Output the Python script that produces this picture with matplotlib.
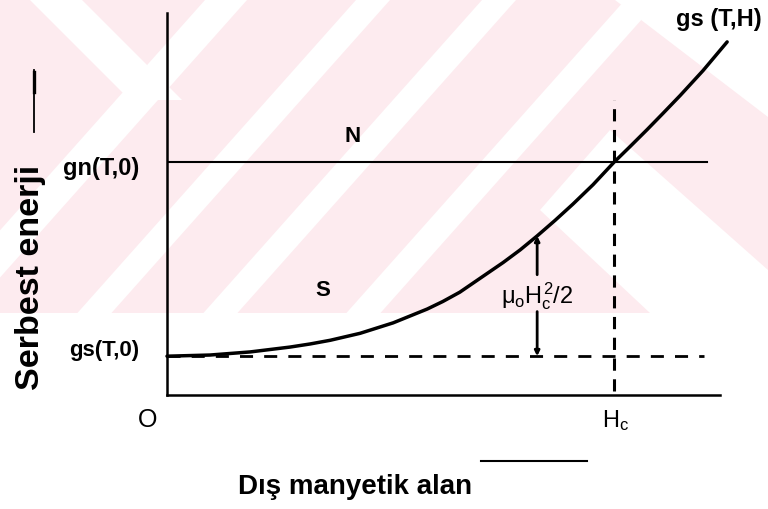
import matplotlib
matplotlib.use("Agg")
import matplotlib.pyplot as plt
from matplotlib.patches import Polygon
from matplotlib.lines import Line2D
from matplotlib import font_manager

# values (H in units of Hc, energy in arbitrary units)
H_curve = [0.0, 0.096, 0.186, 0.275, 0.320, 0.365, 0.432, 0.506, 0.582, 0.617,
           0.655, 0.752, 0.790, 0.828, 0.868, 0.908, 0.953, 1.0, 1.036, 1.074,
           1.110, 1.148, 1.199, 1.253]
g_curve = [0.2, 0.206, 0.222, 0.247, 0.263, 0.282, 0.318, 0.372, 0.443, 0.482,
           0.530, 0.683, 0.748, 0.820, 0.900, 0.984, 1.084, 1.2, 1.281, 1.368,
           1.453, 1.544, 1.672, 1.820]
gn0 = 1.2          # gn(T,0)
gs0 = 0.2          # gs(T,0)
Hc = 1.0
gn_end = 1.208     # where the N line stops
gs0_end = 1.201    # where the dashed gs(T,0) line stops
H_arrow = 0.828    # position of the mu0 Hc^2/2 arrow
g_arrow_gap = [0.43, 0.62]
Hc_line = [0.02, 1.52]

names = {f.name for f in font_manager.fontManager.ttflist}
font = 'Liberation Sans' if 'Liberation Sans' in names else 'DejaVu Sans'
plt.rcParams['font.family'] = [font, 'DejaVu Sans']
plt.rcParams['mathtext.fontset'] = 'custom'
plt.rcParams['mathtext.rm'] = font
plt.rcParams['mathtext.it'] = font

W, Hpx = 768, 509
fig = plt.figure(figsize=(W / 100, Hpx / 100), dpi=100)
fig.patch.set_facecolor('white')


def px(x, y):
    """pixel (from top-left) -> figure fraction"""
    return (x / W, 1 - y / Hpx)


def wm_poly(pts, color):
    fig.add_artist(Polygon([px(*p) for p in pts], closed=True, transform=fig.transFigure,
                           facecolor=color, edgecolor='none', zorder=-10))


# watermark in the background
pink = '#fdebef'
wm_poly([(0, 0), (W, 0), (W, 313), (0, 313)], pink)
for c, sw in [(205, 42), (356, 34), (482, 34), (625, 34)]:
    wm_poly([(c, 0), (c + sw, 0), (c + sw - 0.89 * 313, 313), (c - 0.89 * 313, 313)], 'white')
wm_poly([(30, 0), (82, 0), (182, 100), (130, 100)], 'white')
wm_poly([(615, 0), (W, 0), (W, 117)], 'white')
wm_poly([(610, 130), (W, 270), (W, 313), (650, 313), (540, 210)], 'white')

ax = fig.add_axes([167 / W, 1 - 395 / Hpx, (720 - 167) / W, (395 - 13) / Hpx])
ax.set_facecolor('none')
ax.set_xlim(0, 1.237)
ax.set_ylim(0, 1.969)
for s in ['top', 'right']:
    ax.spines[s].set_visible(False)
for s in ['left', 'bottom']:
    ax.spines[s].set_linewidth(1.8)
ax.set_xticks([])
ax.set_yticks([])

# N line, dashed gs(T,0), Hc line
ax.plot([0, gn_end], [gn0, gn0], color='black', lw=1.5)
ax.plot([0, gs0_end], [gs0, gs0], color='black', lw=2, linestyle=(0, (4.7, 4.0)))
ax.plot([Hc, Hc], Hc_line, color='black', lw=2.2, linestyle=(0, (4.0, 2.8)))

# gs(T,H)
ax.plot(H_curve, g_curve, color='black', lw=2.5, clip_on=False,
        solid_capstyle='round', solid_joinstyle='round')

# mu0 Hc^2/2 arrows
arr = dict(arrowstyle='-|>', color='black', lw=2.0, mutation_scale=7, shrinkA=0, shrinkB=0)
ax.annotate('', xy=(H_arrow, g_curve[13]), xytext=(H_arrow, g_arrow_gap[1]), arrowprops=arr)
ax.annotate('', xy=(H_arrow, gs0), xytext=(H_arrow, g_arrow_gap[0]), arrowprops=arr)
ax.text(H_arrow, 0.51, r'$\mu_o H_c^2/2$', fontsize=17, ha='center', va='center')

# labels
bold = dict(fontweight='bold', color='black')
ax.text(-0.063, gn0 - 0.035, 'gn(T,0)', fontsize=17, ha='right', va='center', **bold)
ax.text(-0.063, gs0 + 0.03, 'gs(T,0)', fontsize=16, ha='right', va='center', **bold)
ax.text(0.414, 1.335, 'N', fontsize=16, ha='center', va='center', **bold)
ax.text(0.349, 0.541, 'S', fontsize=16, ha='center', va='center', **bold)
ax.text(1.235, 1.933, 'gs (T,H)', fontsize=17, ha='center', va='center', clip_on=False, **bold)
ax.text(-0.0425, -0.129, 'O', fontsize=18, ha='center', va='center', clip_on=False)
ax.text(1.004, -0.13, r'H$_\mathregular{c}$', fontsize=17, ha='center', va='center', clip_on=False)

fig.text(*px(31, 277), 'Serbest enerji', rotation=90, fontsize=24.5, ha='center', va='center', **bold)
fig.text(*px(355, 487), 'Dış manyetik alan', fontsize=20, ha='center', va='center', **bold)

# small marker lines beside the axis titles
fig.add_artist(Line2D([34 / W, 34 / W], [1 - 132 / Hpx, 1 - 70 / Hpx], color='black', lw=1.3))
fig.add_artist(Line2D([34 / W, 34 / W], [1 - 92 / Hpx, 1 - 72 / Hpx], color='black', lw=2.4))
fig.add_artist(Line2D([481 / W, 587 / W], [1 - 461 / Hpx, 1 - 461 / Hpx], color='black', lw=1.5))

fig.savefig('out.png', dpi=100, facecolor='white')
